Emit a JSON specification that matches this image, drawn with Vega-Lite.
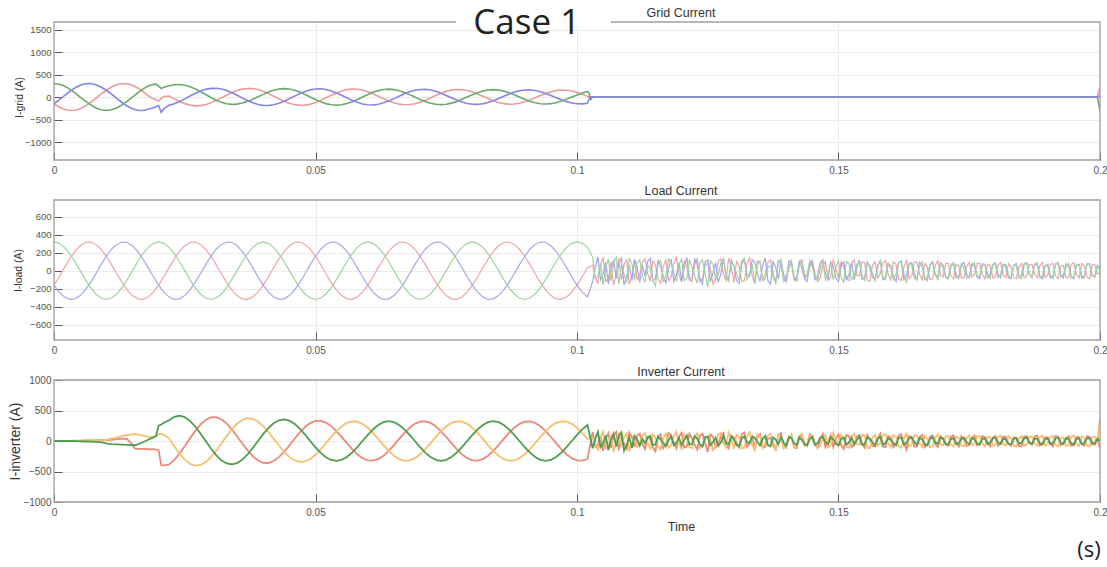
{
"$schema": "https://vega.github.io/schema/vega-lite/v6.json",
"background": "white",
"padding": {"left": 7, "top": 5, "right": 2, "bottom": 5},
"spacing": 40,
"bounds": "flush",
"resolve": {"scale": {"color": "independent", "x": "independent", "y": "independent"}, "axis": {"x": "independent", "y": "independent"}},
"config": {
  "view": {"stroke": null},
  "axis": {"labelFont": "Liberation Sans", "labelColor": "#555", "titleFont": "Liberation Sans", "titleFontWeight": "normal", "titleColor": "#333", "gridColor": "#ebebeb", "domain": false, "tickColor": "#555", "tickSize": -8, "labelFlush": false, "labelOverlap": false},
  "title": {"font": "Liberation Sans", "fontSize": 12.5, "fontWeight": "normal", "color": "#333", "anchor": "middle"}
},
"datasets": {
"grid": [
{"t":0,"a":-150,"b":300,"c":-150},{"t":0.001,"a":-223,"b":285,"c":-62},{"t":0.002,"a":-274,"b":243,"c":32},{"t":0.003,"a":-299,"b":176,"c":122},{"t":0.004,"a":-293,"b":93,"c":201},{"t":0.005,"a":-260,"b":0,"c":260},{"t":0.006,"a":-201,"b":-93,"c":293},{"t":0.007,"a":-122,"b":-176,"c":299},{"t":0.008,"a":-32,"b":-243,"c":274},{"t":0.009,"a":62,"b":-285,"c":223},
{"t":0.01,"a":150,"b":-300,"c":150},{"t":0.011,"a":223,"b":-285,"c":62},{"t":0.012,"a":274,"b":-243,"c":-32},{"t":0.013,"a":299,"b":-176,"c":-122},{"t":0.014,"a":293,"b":-93,"c":-201},{"t":0.015,"a":260,"b":0,"c":-260},{"t":0.016,"a":201,"b":93,"c":-293},{"t":0.017,"a":122,"b":176,"c":-299},{"t":0.018,"a":32,"b":243,"c":-274},{"t":0.019,"a":-40,"b":280,"c":-240},
{"t":0.0195,"a":-60,"b":285,"c":-215},{"t":0.02,"a":-90,"b":240,"c":-190},{"t":0.0205,"a":-30,"b":190,"c":-340},{"t":0.021,"a":10,"b":215,"c":-260},{"t":0.022,"a":21,"b":252,"c":-183},{"t":0.023,"a":-41,"b":274,"c":-148},{"t":0.024,"a":-99,"b":278,"c":-99},{"t":0.025,"a":-147,"b":263,"c":-41},{"t":0.026,"a":-180,"b":229,"c":21},{"t":0.027,"a":-196,"b":181,"c":80},
{"t":0.028,"a":-192,"b":121,"c":131},{"t":0.029,"a":-170,"b":55,"c":170},{"t":0.03,"a":-130,"b":-10,"c":191},{"t":0.031,"a":-79,"b":-70,"c":194},{"t":0.032,"a":-20,"b":-117,"c":177},{"t":0.033,"a":40,"b":-149,"c":143},{"t":0.034,"a":97,"b":-163,"c":97},{"t":0.035,"a":143,"b":-158,"c":40},{"t":0.036,"a":175,"b":-135,"c":-20},{"t":0.037,"a":190,"b":-97,"c":-78},
{"t":0.038,"a":186,"b":-49,"c":-127},{"t":0.039,"a":165,"b":5,"c":-165},{"t":0.04,"a":126,"b":58,"c":-185},{"t":0.041,"a":77,"b":111,"c":-188},{"t":0.042,"a":20,"b":152,"c":-172},{"t":0.043,"a":-39,"b":178,"c":-139},{"t":0.044,"a":-94,"b":187,"c":-94},{"t":0.045,"a":-138,"b":177,"c":-39},{"t":0.046,"a":-170,"b":150,"c":20},{"t":0.047,"a":-184,"b":109,"c":75},
{"t":0.048,"a":-180,"b":57,"c":123},{"t":0.049,"a":-159,"b":0,"c":159},{"t":0.05,"a":-122,"b":-57,"c":179},{"t":0.051,"a":-74,"b":-108,"c":182},{"t":0.052,"a":-19,"b":-147,"c":166},{"t":0.053,"a":38,"b":-172,"c":134},{"t":0.054,"a":90,"b":-181,"c":90},{"t":0.055,"a":134,"b":-171,"c":37},{"t":0.056,"a":165,"b":-146,"c":-19},{"t":0.057,"a":178,"b":-105,"c":-73},
{"t":0.058,"a":174,"b":-55,"c":-119},{"t":0.059,"a":154,"b":0,"c":-154},{"t":0.06,"a":118,"b":55,"c":-173},{"t":0.061,"a":72,"b":104,"c":-176},{"t":0.062,"a":18,"b":142,"c":-161},{"t":0.063,"a":-36,"b":166,"c":-130},{"t":0.064,"a":-88,"b":175,"c":-88},{"t":0.065,"a":-129,"b":165,"c":-36},{"t":0.066,"a":-159,"b":141,"c":18},{"t":0.067,"a":-172,"b":102,"c":70},
{"t":0.068,"a":-168,"b":53,"c":115},{"t":0.069,"a":-149,"b":0,"c":149},{"t":0.07,"a":-114,"b":-53,"c":167},{"t":0.071,"a":-70,"b":-101,"c":170},{"t":0.072,"a":-18,"b":-138,"c":155},{"t":0.073,"a":35,"b":-161,"c":126},{"t":0.074,"a":85,"b":-169,"c":85},{"t":0.075,"a":125,"b":-160,"c":35},{"t":0.076,"a":154,"b":-136,"c":-18},{"t":0.077,"a":166,"b":-98,"c":-68},
{"t":0.078,"a":162,"b":-51,"c":-111},{"t":0.079,"a":144,"b":0,"c":-144},{"t":0.08,"a":110,"b":51,"c":-161},{"t":0.081,"a":67,"b":97,"c":-164},{"t":0.082,"a":17,"b":133,"c":-150},{"t":0.083,"a":-34,"b":155,"c":-121},{"t":0.084,"a":-82,"b":163,"c":-82},{"t":0.085,"a":-120,"b":154,"c":-34},{"t":0.086,"a":-148,"b":131,"c":17},{"t":0.087,"a":-160,"b":95,"c":66},
{"t":0.088,"a":-156,"b":49,"c":107},{"t":0.089,"a":-139,"b":0,"c":139},{"t":0.09,"a":-106,"b":-49,"c":156},{"t":0.091,"a":-65,"b":-93,"c":158},{"t":0.092,"a":-17,"b":-128,"c":144},{"t":0.093,"a":33,"b":-149,"c":117},{"t":0.094,"a":79,"b":-157,"c":79},{"t":0.095,"a":116,"b":-148,"c":32},{"t":0.096,"a":143,"b":-126,"c":-16},{"t":0.097,"a":154,"b":-91,"c":-63},
{"t":0.098,"a":151,"b":-48,"c":-103},{"t":0.099,"a":133,"b":0,"c":-133},{"t":0.1,"a":102,"b":47,"c":-150},{"t":0.101,"a":62,"b":90,"c":-152},{"t":0.102,"a":16,"b":123,"c":-139},{"t":0.1023,"a":0,"b":90,"c":-40},{"t":0.1026,"a":0,"b":-60,"c":0},{"t":0.103,"a":0,"b":0,"c":0},{"t":0.1995,"a":0,"b":0,"c":0},{"t":0.2,"a":220,"b":-300,"c":30}
],
"load": [
{"t":0,"a":-160,"b":-160,"c":320},{"t":0.001,"a":-67,"b":-238,"c":304},{"t":0.002,"a":34,"b":-292,"c":259},{"t":0.003,"a":130,"b":-318,"c":188},{"t":0.004,"a":214,"b":-313,"c":99},{"t":0.005,"a":277,"b":-277,"c":0},{"t":0.006,"a":313,"b":-214,"c":-99},{"t":0.007,"a":318,"b":-130,"c":-188},{"t":0.008,"a":292,"b":-34,"c":-259},{"t":0.009,"a":238,"b":67,"c":-304},
{"t":0.01,"a":160,"b":160,"c":-320},{"t":0.011,"a":67,"b":238,"c":-304},{"t":0.012,"a":-34,"b":292,"c":-259},{"t":0.013,"a":-130,"b":318,"c":-188},{"t":0.014,"a":-214,"b":313,"c":-99},{"t":0.015,"a":-277,"b":277,"c":0},{"t":0.016,"a":-313,"b":214,"c":99},{"t":0.017,"a":-318,"b":130,"c":188},{"t":0.018,"a":-292,"b":34,"c":259},{"t":0.019,"a":-238,"b":-67,"c":304},
{"t":0.02,"a":-160,"b":-160,"c":320},{"t":0.021,"a":-67,"b":-238,"c":304},{"t":0.022,"a":34,"b":-292,"c":259},{"t":0.023,"a":130,"b":-318,"c":188},{"t":0.024,"a":214,"b":-313,"c":99},{"t":0.025,"a":277,"b":-277,"c":0},{"t":0.026,"a":313,"b":-214,"c":-99},{"t":0.027,"a":318,"b":-130,"c":-188},{"t":0.028,"a":292,"b":-34,"c":-259},{"t":0.029,"a":238,"b":67,"c":-304},
{"t":0.03,"a":160,"b":160,"c":-320},{"t":0.031,"a":67,"b":238,"c":-304},{"t":0.032,"a":-34,"b":292,"c":-259},{"t":0.033,"a":-130,"b":318,"c":-188},{"t":0.034,"a":-214,"b":313,"c":-99},{"t":0.035,"a":-277,"b":277,"c":0},{"t":0.036,"a":-313,"b":214,"c":99},{"t":0.037,"a":-318,"b":130,"c":188},{"t":0.038,"a":-292,"b":34,"c":259},{"t":0.039,"a":-238,"b":-67,"c":304},
{"t":0.04,"a":-160,"b":-160,"c":320},{"t":0.041,"a":-67,"b":-238,"c":304},{"t":0.042,"a":34,"b":-292,"c":259},{"t":0.043,"a":130,"b":-318,"c":188},{"t":0.044,"a":214,"b":-313,"c":99},{"t":0.045,"a":277,"b":-277,"c":0},{"t":0.046,"a":313,"b":-214,"c":-99},{"t":0.047,"a":318,"b":-130,"c":-188},{"t":0.048,"a":292,"b":-34,"c":-259},{"t":0.049,"a":238,"b":67,"c":-304},
{"t":0.05,"a":160,"b":160,"c":-320},{"t":0.051,"a":67,"b":238,"c":-304},{"t":0.052,"a":-34,"b":292,"c":-259},{"t":0.053,"a":-130,"b":318,"c":-188},{"t":0.054,"a":-214,"b":313,"c":-99},{"t":0.055,"a":-277,"b":277,"c":0},{"t":0.056,"a":-313,"b":214,"c":99},{"t":0.057,"a":-318,"b":130,"c":188},{"t":0.058,"a":-292,"b":34,"c":259},{"t":0.059,"a":-238,"b":-67,"c":304},
{"t":0.06,"a":-160,"b":-160,"c":320},{"t":0.061,"a":-67,"b":-238,"c":304},{"t":0.062,"a":34,"b":-292,"c":259},{"t":0.063,"a":130,"b":-318,"c":188},{"t":0.064,"a":214,"b":-313,"c":99},{"t":0.065,"a":277,"b":-277,"c":0},{"t":0.066,"a":313,"b":-214,"c":-99},{"t":0.067,"a":318,"b":-130,"c":-188},{"t":0.068,"a":292,"b":-34,"c":-259},{"t":0.069,"a":238,"b":67,"c":-304},
{"t":0.07,"a":160,"b":160,"c":-320},{"t":0.071,"a":67,"b":238,"c":-304},{"t":0.072,"a":-34,"b":292,"c":-259},{"t":0.073,"a":-130,"b":318,"c":-188},{"t":0.074,"a":-214,"b":313,"c":-99},{"t":0.075,"a":-277,"b":277,"c":0},{"t":0.076,"a":-313,"b":214,"c":99},{"t":0.077,"a":-318,"b":130,"c":188},{"t":0.078,"a":-292,"b":34,"c":259},{"t":0.079,"a":-238,"b":-67,"c":304},
{"t":0.08,"a":-160,"b":-160,"c":320},{"t":0.081,"a":-67,"b":-238,"c":304},{"t":0.082,"a":34,"b":-292,"c":259},{"t":0.083,"a":130,"b":-318,"c":188},{"t":0.084,"a":214,"b":-313,"c":99},{"t":0.085,"a":277,"b":-277,"c":0},{"t":0.086,"a":313,"b":-214,"c":-99},{"t":0.087,"a":318,"b":-130,"c":-188},{"t":0.088,"a":292,"b":-34,"c":-259},{"t":0.089,"a":238,"b":67,"c":-304},
{"t":0.09,"a":160,"b":160,"c":-320},{"t":0.091,"a":67,"b":238,"c":-304},{"t":0.092,"a":-34,"b":292,"c":-259},{"t":0.093,"a":-130,"b":318,"c":-188},{"t":0.094,"a":-214,"b":313,"c":-99},{"t":0.095,"a":-277,"b":277,"c":0},{"t":0.096,"a":-313,"b":214,"c":99},{"t":0.097,"a":-318,"b":130,"c":188},{"t":0.098,"a":-292,"b":34,"c":259},{"t":0.099,"a":-238,"b":-67,"c":304},
{"t":0.1,"a":-160,"b":-160,"c":320},{"t":0.101,"a":-67,"b":-238,"c":304},{"t":0.102,"a":34,"b":-292,"c":259},
{"t":0.103,"a":60,"b":-120,"c":150},{"t":0.1035,"a":-80,"b":40,"c":-90},{"t":0.104,"a":-140,"b":150,"c":-60},{"t":0.1045,"a":60,"b":-100,"c":80},{"t":0.105,"a":150,"b":-40,"c":-160},{"t":0.1055,"a":-120,"b":90,"c":40},{"t":0.106,"a":-90,"b":-150,"c":130},{"t":0.1065,"a":100,"b":20,"c":-110},{"t":0.107,"a":-160,"b":120,"c":90},{"t":0.1075,"a":-40,"b":-90,"c":150},
{"t":0.108,"a":140,"b":80,"c":-150},{"t":0.1085,"a":-100,"b":140,"c":60},{"t":0.109,"a":70,"b":-160,"c":-40},{"t":0.1095,"a":120,"b":-60,"c":-130},{"t":0.11,"a":-150,"b":60,"c":140},{"t":0.1105,"a":-60,"b":-110,"c":70},{"t":0.111,"a":110,"b":130,"c":-100},{"t":0.1115,"a":-100,"b":40,"c":90},{"t":0.112,"a":-40,"b":-130,"c":120},{"t":0.1125,"a":90,"b":60,"c":-50},
{"t":0.113,"a":130,"b":-60,"c":-130},{"t":0.1135,"a":-30,"b":100,"c":60},{"t":0.114,"a":-120,"b":140,"c":30},{"t":0.1145,"a":110,"b":-110,"c":-110},{"t":0.115,"a":60,"b":-90,"c":-170},{"t":0.1155,"a":-90,"b":120,"c":80},{"t":0.116,"a":-140,"b":40,"c":110},{"t":0.1165,"a":50,"b":-60,"c":-120},{"t":0.117,"a":120,"b":-140,"c":-60},{"t":0.1175,"a":-110,"b":20,"c":130},
{"t":0.118,"a":-70,"b":130,"c":90},{"t":0.1185,"a":80,"b":-120,"c":-20},{"t":0.119,"a":150,"b":-50,"c":-120},{"t":0.1195,"a":-40,"b":90,"c":70},{"t":0.12,"a":-130,"b":-110,"c":130},{"t":0.1205,"a":110,"b":30,"c":-110},{"t":0.121,"a":40,"b":150,"c":-90},{"t":0.1215,"a":-100,"b":-100,"c":120},{"t":0.122,"a":-120,"b":-80,"c":40},{"t":0.1225,"a":70,"b":130,"c":-60},
{"t":0.123,"a":130,"b":60,"c":-140},{"t":0.1235,"a":-120,"b":-90,"c":90},{"t":0.124,"a":-90,"b":-150,"c":120},{"t":0.1245,"a":60,"b":100,"c":-40},{"t":0.125,"a":80,"b":120,"c":-180},{"t":0.1255,"a":20,"b":-120,"c":110},{"t":0.126,"a":-150,"b":-30,"c":70},{"t":0.1265,"a":-90,"b":90,"c":-100},{"t":0.127,"a":110,"b":-130,"c":-50},{"t":0.1275,"a":130,"b":-40,"c":80},
{"t":0.128,"a":-40,"b":140,"c":130},{"t":0.1285,"a":-110,"b":-60,"c":-60},{"t":0.129,"a":140,"b":-90,"c":-120},{"t":0.1295,"a":40,"b":120,"c":90},{"t":0.13,"a":-130,"b":50,"c":60},{"t":0.1305,"a":100,"b":-110,"c":-30},{"t":0.131,"a":60,"b":-140,"c":-110},{"t":0.1315,"a":-120,"b":70,"c":110},{"t":0.132,"a":-110,"b":130,"c":140},{"t":0.1325,"a":80,"b":-40,"c":-100},
{"t":0.133,"a":140,"b":-60,"c":-40},{"t":0.1335,"a":-60,"b":120,"c":70},{"t":0.134,"a":-150,"b":90,"c":-130},{"t":0.1345,"a":110,"b":-30,"c":60},{"t":0.135,"a":90,"b":-120,"c":110},{"t":0.1355,"a":-110,"b":60,"c":-110},{"t":0.136,"a":-30,"b":140,"c":-90},{"t":0.1365,"a":90,"b":-110,"c":40},{"t":0.137,"a":120,"b":-150,"c":50},{"t":0.1375,"a":-20,"b":100,"c":-70},
{"t":0.138,"a":-130,"b":40,"c":-140},{"t":0.1385,"a":110,"b":-90,"c":100},{"t":0.139,"a":70,"b":110,"c":130},{"t":0.1395,"a":-100,"b":-40,"c":-110},{"t":0.14,"a":-120,"b":-130,"c":-60},{"t":0.1405,"a":40,"b":110,"c":30},{"t":0.141,"a":110,"b":80,"c":90},{"t":0.1415,"a":-100,"b":-60,"c":-100},{"t":0.142,"a":-90,"b":-110,"c":-120},{"t":0.1425,"a":90,"b":100,"c":60},
{"t":0.143,"a":120,"b":30,"c":100},{"t":0.1435,"a":-80,"b":-90,"c":-40},{"t":0.144,"a":-40,"b":-120,"c":-80},{"t":0.1445,"a":100,"b":50,"c":110},{"t":0.145,"a":100,"b":110,"c":40},{"t":0.1455,"a":-30,"b":-100,"c":-60},{"t":0.146,"a":-120,"b":-60,"c":-110},{"t":0.1465,"a":-80,"b":90,"c":20},{"t":0.147,"a":60,"b":120,"c":120},{"t":0.1475,"a":100,"b":-40,"c":-100},
{"t":0.148,"a":-110,"b":-90,"c":-30},{"t":0.1485,"a":-70,"b":100,"c":90},{"t":0.149,"a":130,"b":50,"c":-100},{"t":0.1495,"a":20,"b":-80,"c":40},{"t":0.15,"a":-80,"b":-120,"c":110},{"t":0.1505,"a":100,"b":50,"c":-70},{"t":0.151,"a":40,"b":100,"c":-130},{"t":0.1515,"a":-90,"b":-100,"c":100},{"t":0.152,"a":-110,"b":-40,"c":80},{"t":0.1525,"a":80,"b":90,"c":-100},
{"t":0.153,"a":120,"b":-100,"c":-60},{"t":0.1535,"a":-50,"b":30,"c":70},{"t":0.154,"a":-60,"b":120,"c":100},{"t":0.1545,"a":100,"b":-100,"c":-50},{"t":0.155,"a":90,"b":-80,"c":-110},{"t":0.1555,"a":-110,"b":90,"c":100},{"t":0.156,"a":-120,"b":60,"c":30},{"t":0.1565,"a":60,"b":-40,"c":-80},{"t":0.157,"a":100,"b":-110,"c":-90},{"t":0.1575,"a":-80,"b":60,"c":40},
{"t":0.158,"a":-30,"b":110,"c":120},{"t":0.1585,"a":90,"b":-100,"c":-90},{"t":0.159,"a":110,"b":-60,"c":-100},{"t":0.1595,"a":-40,"b":80,"c":80},{"t":0.16,"a":-100,"b":30,"c":60},{"t":0.1605,"a":100,"b":-60,"c":-100},{"t":0.161,"a":70,"b":-120,"c":-40},{"t":0.1615,"a":-90,"b":90,"c":90},{"t":0.162,"a":-110,"b":100,"c":110},{"t":0.1625,"a":40,"b":-100,"c":-30},
{"t":0.163,"a":120,"b":-50,"c":-140},{"t":0.1635,"a":-90,"b":80,"c":80},{"t":0.164,"a":-60,"b":90,"c":70},{"t":0.1645,"a":100,"b":-30,"c":-90},{"t":0.165,"a":90,"b":-100,"c":-90},{"t":0.1655,"a":-40,"b":90,"c":60},{"t":0.166,"a":-100,"b":40,"c":100},{"t":0.1665,"a":80,"b":-80,"c":-100},{"t":0.167,"a":40,"b":-110,"c":-60},{"t":0.1675,"a":-100,"b":60,"c":70},
{"t":0.168,"a":-90,"b":100,"c":90},{"t":0.1685,"a":60,"b":-40,"c":-50},{"t":0.169,"a":110,"b":-70,"c":-100},{"t":0.1695,"a":-50,"b":90,"c":80},{"t":0.17,"a":-70,"b":60,"c":40},{"t":0.1705,"a":80,"b":-80,"c":-60},{"t":0.171,"a":80,"b":-90,"c":-80},{"t":0.1715,"a":-60,"b":50,"c":70},{"t":0.172,"a":-90,"b":80,"c":90},{"t":0.1725,"a":70,"b":-80,"c":-40},
{"t":0.173,"a":50,"b":-60,"c":-90},{"t":0.1735,"a":-80,"b":60,"c":80},{"t":0.174,"a":-80,"b":90,"c":30},{"t":0.1745,"a":50,"b":-40,"c":-80},{"t":0.175,"a":90,"b":-80,"c":-70},{"t":0.1755,"a":-70,"b":80,"c":50},{"t":0.176,"a":-40,"b":50,"c":90},{"t":0.1765,"a":80,"b":-70,"c":-70},{"t":0.177,"a":80,"b":-90,"c":-60},{"t":0.1775,"a":-40,"b":60,"c":80},
{"t":0.178,"a":-90,"b":70,"c":60},{"t":0.1785,"a":70,"b":-80,"c":-30},{"t":0.179,"a":60,"b":-40,"c":-90},{"t":0.1795,"a":-80,"b":70,"c":60},{"t":0.18,"a":-70,"b":90,"c":80},{"t":0.1805,"a":60,"b":-40,"c":-80},{"t":0.181,"a":90,"b":-80,"c":-40},{"t":0.1815,"a":-50,"b":70,"c":70},{"t":0.182,"a":-80,"b":40,"c":70},{"t":0.1825,"a":80,"b":-80,"c":-50},
{"t":0.183,"a":40,"b":-90,"c":-80},{"t":0.1835,"a":-70,"b":60,"c":60},{"t":0.184,"a":-90,"b":80,"c":50},{"t":0.1845,"a":40,"b":-70,"c":-80},{"t":0.185,"a":80,"b":-50,"c":-90},{"t":0.1855,"a":-80,"b":80,"c":70},{"t":0.186,"a":-60,"b":90,"c":80},{"t":0.1865,"a":70,"b":-40,"c":-40},{"t":0.187,"a":70,"b":-80,"c":-60},{"t":0.1875,"a":-40,"b":70,"c":70},
{"t":0.188,"a":-80,"b":60,"c":90},{"t":0.1885,"a":60,"b":-60,"c":-80},{"t":0.189,"a":90,"b":-90,"c":-50},{"t":0.1895,"a":-80,"b":50,"c":60},{"t":0.19,"a":-50,"b":70,"c":60},{"t":0.1905,"a":70,"b":-80,"c":-50},{"t":0.191,"a":80,"b":-60,"c":-90},{"t":0.1915,"a":-60,"b":70,"c":80},{"t":0.192,"a":-90,"b":90,"c":70},{"t":0.1925,"a":50,"b":-50,"c":-70},
{"t":0.193,"a":60,"b":-80,"c":-40},{"t":0.1935,"a":-80,"b":80,"c":40},{"t":0.194,"a":-70,"b":50,"c":80},{"t":0.1945,"a":70,"b":-60,"c":-80},{"t":0.195,"a":90,"b":-90,"c":-70},{"t":0.1955,"a":-50,"b":60,"c":70},{"t":0.196,"a":-80,"b":70,"c":60},{"t":0.1965,"a":80,"b":-80,"c":-50},{"t":0.197,"a":50,"b":-60,"c":-80},{"t":0.1975,"a":-70,"b":70,"c":80},
{"t":0.198,"a":-90,"b":80,"c":70},{"t":0.1985,"a":60,"b":-50,"c":-60},{"t":0.199,"a":70,"b":-70,"c":-60},{"t":0.1995,"a":-40,"b":60,"c":50},{"t":0.2,"a":-20,"b":30,"c":-10}
],
"inv": [
{"t":0,"a":0,"b":0,"c":0},{"t":0.001,"a":0,"b":0,"c":0},{"t":0.002,"a":2,"b":-2,"c":0},{"t":0.003,"a":3,"b":-3,"c":0},{"t":0.004,"a":5,"b":-2,"c":-3},{"t":0.005,"a":6,"b":3,"c":-5},{"t":0.006,"a":8,"b":5,"c":-8},{"t":0.007,"a":10,"b":8,"c":-10},{"t":0.008,"a":12,"b":12,"c":-15},{"t":0.009,"a":15,"b":15,"c":-20},
{"t":0.01,"a":15,"b":20,"c":-40},{"t":0.011,"a":20,"b":40,"c":-50},{"t":0.012,"a":30,"b":60,"c":-55},{"t":0.013,"a":40,"b":80,"c":-60},{"t":0.014,"a":30,"b":100,"c":-65},{"t":0.015,"a":-60,"b":110,"c":-70},{"t":0.0155,"a":-125,"b":115,"c":-70},{"t":0.016,"a":-130,"b":110,"c":-55},{"t":0.017,"a":-130,"b":90,"c":-20},{"t":0.018,"a":-135,"b":70,"c":20},
{"t":0.019,"a":-135,"b":60,"c":60},{"t":0.0195,"a":-140,"b":80,"c":80},{"t":0.02,"a":-150,"b":110,"c":250},{"t":0.0205,"a":-400,"b":120,"c":270},{"t":0.021,"a":-398,"b":100,"c":300},{"t":0.022,"a":-384,"b":44,"c":340},{"t":0.023,"a":-310,"b":-87,"c":397},{"t":0.024,"a":-207,"b":-207,"c":414},{"t":0.025,"a":-85,"b":-305,"c":391},{"t":0.026,"a":43,"b":-373,"c":330},
{"t":0.027,"a":165,"b":-403,"c":238},{"t":0.028,"a":269,"b":-393,"c":124},{"t":0.029,"a":346,"b":-346,"c":0},{"t":0.03,"a":387,"b":-265,"c":-122},{"t":0.031,"a":391,"b":-160,"c":-231},{"t":0.032,"a":356,"b":-41,"c":-316},{"t":0.033,"a":288,"b":80,"c":-368},{"t":0.034,"a":192,"b":192,"c":-384},{"t":0.035,"a":79,"b":283,"c":-362},{"t":0.036,"a":-40,"b":345,"c":-306},
{"t":0.037,"a":-153,"b":373,"c":-221},{"t":0.038,"a":-249,"b":364,"c":-115},{"t":0.039,"a":-320,"b":320,"c":0},{"t":0.04,"a":-358,"b":245,"c":113},{"t":0.041,"a":-361,"b":148,"c":213},{"t":0.042,"a":-329,"b":38,"c":291},{"t":0.043,"a":-265,"b":-74,"c":340},{"t":0.044,"a":-177,"b":-177,"c":354},{"t":0.045,"a":-73,"b":-261,"c":334},{"t":0.046,"a":37,"b":-318,"c":282},
{"t":0.047,"a":140,"b":-343,"c":203},{"t":0.048,"a":229,"b":-334,"c":106},{"t":0.049,"a":294,"b":-294,"c":0},{"t":0.05,"a":329,"b":-225,"c":-104},{"t":0.051,"a":331,"b":-136,"c":-196},{"t":0.052,"a":302,"b":-35,"c":-267},{"t":0.053,"a":243,"b":68,"c":-311},{"t":0.054,"a":163,"b":163,"c":-325},{"t":0.055,"a":68,"b":241,"c":-309},{"t":0.056,"a":-34,"b":297,"c":-263},
{"t":0.057,"a":-132,"b":323,"c":-191},{"t":0.058,"a":-217,"b":318,"c":-100},{"t":0.059,"a":-281,"b":281,"c":0},{"t":0.06,"a":-318,"b":217,"c":100},{"t":0.061,"a":-323,"b":132,"c":191},{"t":0.062,"a":-297,"b":34,"c":263},{"t":0.063,"a":-241,"b":-68,"c":309},{"t":0.064,"a":-163,"b":-163,"c":325},{"t":0.065,"a":-68,"b":-241,"c":309},{"t":0.066,"a":34,"b":-297,"c":263},
{"t":0.067,"a":132,"b":-323,"c":191},{"t":0.068,"a":217,"b":-318,"c":100},{"t":0.069,"a":281,"b":-281,"c":0},{"t":0.07,"a":318,"b":-217,"c":-100},{"t":0.071,"a":323,"b":-132,"c":-191},{"t":0.072,"a":297,"b":-34,"c":-263},{"t":0.073,"a":241,"b":68,"c":-309},{"t":0.074,"a":163,"b":163,"c":-325},{"t":0.075,"a":68,"b":241,"c":-309},{"t":0.076,"a":-34,"b":297,"c":-263},
{"t":0.077,"a":-132,"b":323,"c":-191},{"t":0.078,"a":-217,"b":318,"c":-100},{"t":0.079,"a":-281,"b":281,"c":0},{"t":0.08,"a":-318,"b":217,"c":100},{"t":0.081,"a":-323,"b":132,"c":191},{"t":0.082,"a":-297,"b":34,"c":263},{"t":0.083,"a":-241,"b":-68,"c":309},{"t":0.084,"a":-163,"b":-163,"c":325},{"t":0.085,"a":-68,"b":-241,"c":309},{"t":0.086,"a":34,"b":-297,"c":263},
{"t":0.087,"a":132,"b":-323,"c":191},{"t":0.088,"a":217,"b":-318,"c":100},{"t":0.089,"a":281,"b":-281,"c":0},{"t":0.09,"a":318,"b":-217,"c":-100},{"t":0.091,"a":323,"b":-132,"c":-191},{"t":0.092,"a":297,"b":-34,"c":-263},{"t":0.093,"a":241,"b":68,"c":-309},{"t":0.094,"a":163,"b":163,"c":-325},{"t":0.095,"a":68,"b":241,"c":-309},{"t":0.096,"a":-34,"b":297,"c":-263},
{"t":0.097,"a":-132,"b":323,"c":-191},{"t":0.098,"a":-217,"b":318,"c":-100},{"t":0.099,"a":-281,"b":281,"c":0},{"t":0.1,"a":-318,"b":217,"c":100},{"t":0.101,"a":-323,"b":132,"c":191},{"t":0.102,"a":-297,"b":34,"c":263},
{"t":0.103,"a":150,"b":60,"c":-120},{"t":0.1035,"a":-90,"b":-80,"c":40},{"t":0.104,"a":-60,"b":-140,"c":150},{"t":0.1045,"a":80,"b":60,"c":-100},{"t":0.105,"a":-160,"b":150,"c":-40},{"t":0.1055,"a":40,"b":-120,"c":90},{"t":0.106,"a":130,"b":-90,"c":-150},{"t":0.1065,"a":-110,"b":100,"c":20},{"t":0.107,"a":90,"b":-160,"c":120},{"t":0.1075,"a":150,"b":-40,"c":-90},
{"t":0.108,"a":-150,"b":140,"c":80},{"t":0.1085,"a":60,"b":-100,"c":140},{"t":0.109,"a":-40,"b":70,"c":-160},{"t":0.1095,"a":-130,"b":120,"c":-60},{"t":0.11,"a":140,"b":-150,"c":60},{"t":0.1105,"a":70,"b":-60,"c":-110},{"t":0.111,"a":-100,"b":110,"c":78},{"t":0.1115,"a":90,"b":-100,"c":24},{"t":0.112,"a":120,"b":-40,"c":-78},{"t":0.1125,"a":-50,"b":90,"c":36},
{"t":0.113,"a":-130,"b":130,"c":-36},{"t":0.1135,"a":60,"b":-30,"c":60},{"t":0.114,"a":30,"b":-120,"c":84},{"t":0.1145,"a":-110,"b":110,"c":-66},{"t":0.115,"a":-170,"b":60,"c":-54},{"t":0.1155,"a":80,"b":-90,"c":72},{"t":0.116,"a":110,"b":-140,"c":24},{"t":0.1165,"a":-120,"b":50,"c":-36},{"t":0.117,"a":-60,"b":120,"c":-84},{"t":0.1175,"a":130,"b":-110,"c":12},
{"t":0.118,"a":90,"b":-70,"c":78},{"t":0.1185,"a":-20,"b":80,"c":-72},{"t":0.119,"a":-120,"b":150,"c":-30},{"t":0.1195,"a":70,"b":-40,"c":54},{"t":0.12,"a":130,"b":-130,"c":-66},{"t":0.1205,"a":-110,"b":110,"c":18},{"t":0.121,"a":-90,"b":40,"c":90},{"t":0.1215,"a":120,"b":-100,"c":-60},{"t":0.122,"a":40,"b":-120,"c":-48},{"t":0.1225,"a":-60,"b":70,"c":78},
{"t":0.123,"a":-140,"b":130,"c":36},{"t":0.1235,"a":90,"b":-120,"c":-54},{"t":0.124,"a":120,"b":-90,"c":-90},{"t":0.1245,"a":-40,"b":60,"c":60},{"t":0.125,"a":-180,"b":80,"c":72},{"t":0.1255,"a":110,"b":20,"c":-72},{"t":0.126,"a":70,"b":-150,"c":-18},{"t":0.1265,"a":-100,"b":-90,"c":54},{"t":0.127,"a":-50,"b":110,"c":-78},{"t":0.1275,"a":80,"b":130,"c":-24},
{"t":0.128,"a":130,"b":-40,"c":84},{"t":0.1285,"a":-60,"b":-110,"c":-36},{"t":0.129,"a":-120,"b":140,"c":-54},{"t":0.1295,"a":90,"b":40,"c":72},{"t":0.13,"a":60,"b":-130,"c":30},{"t":0.1305,"a":-30,"b":100,"c":-66},{"t":0.131,"a":-110,"b":60,"c":-84},{"t":0.1315,"a":110,"b":-120,"c":42},{"t":0.132,"a":140,"b":-110,"c":78},{"t":0.1325,"a":-100,"b":80,"c":-24},
{"t":0.133,"a":-40,"b":140,"c":-36},{"t":0.1335,"a":70,"b":-60,"c":72},{"t":0.134,"a":-130,"b":-150,"c":54},{"t":0.1345,"a":60,"b":110,"c":-18},{"t":0.135,"a":110,"b":90,"c":-72},{"t":0.1355,"a":-110,"b":-110,"c":36},{"t":0.136,"a":-90,"b":-30,"c":84},{"t":0.1365,"a":40,"b":90,"c":-66},{"t":0.137,"a":50,"b":120,"c":-90},{"t":0.1375,"a":-70,"b":-20,"c":60},
{"t":0.138,"a":-140,"b":-130,"c":24},{"t":0.1385,"a":100,"b":110,"c":-54},{"t":0.139,"a":130,"b":70,"c":66},{"t":0.1395,"a":-110,"b":-100,"c":-24},{"t":0.14,"a":-60,"b":-120,"c":-78},{"t":0.1405,"a":30,"b":40,"c":66},{"t":0.141,"a":90,"b":110,"c":48},{"t":0.1415,"a":-100,"b":-100,"c":-36},{"t":0.142,"a":-120,"b":-90,"c":-66},{"t":0.1425,"a":60,"b":90,"c":60},
{"t":0.143,"a":100,"b":120,"c":18},{"t":0.1435,"a":-40,"b":-80,"c":-54},{"t":0.144,"a":-80,"b":-40,"c":-72},{"t":0.1445,"a":110,"b":100,"c":30},{"t":0.145,"a":40,"b":100,"c":66},{"t":0.1455,"a":-60,"b":-30,"c":-60},{"t":0.146,"a":-110,"b":-120,"c":-36},{"t":0.1465,"a":20,"b":-80,"c":54},{"t":0.147,"a":120,"b":60,"c":72},{"t":0.1475,"a":-100,"b":100,"c":-24},
{"t":0.148,"a":-30,"b":-110,"c":-54},{"t":0.1485,"a":90,"b":-70,"c":60},{"t":0.149,"a":-100,"b":130,"c":30},{"t":0.1495,"a":40,"b":20,"c":-48},{"t":0.15,"a":110,"b":-80,"c":-72},{"t":0.1505,"a":-70,"b":100,"c":30},{"t":0.151,"a":-130,"b":40,"c":60},{"t":0.1515,"a":100,"b":-90,"c":-60},{"t":0.152,"a":80,"b":-110,"c":-24},{"t":0.1525,"a":-100,"b":80,"c":54},
{"t":0.153,"a":-60,"b":120,"c":-60},{"t":0.1535,"a":70,"b":-50,"c":18},{"t":0.154,"a":100,"b":-60,"c":72},{"t":0.1545,"a":-50,"b":100,"c":-60},{"t":0.155,"a":-110,"b":90,"c":-48},{"t":0.1555,"a":100,"b":-110,"c":54},{"t":0.156,"a":30,"b":-120,"c":36},{"t":0.1565,"a":-80,"b":60,"c":-24},{"t":0.157,"a":-90,"b":100,"c":-66},{"t":0.1575,"a":40,"b":-80,"c":36},
{"t":0.158,"a":120,"b":-30,"c":66},{"t":0.1585,"a":-90,"b":90,"c":-60},{"t":0.159,"a":-100,"b":110,"c":-36},{"t":0.1595,"a":80,"b":-40,"c":48},{"t":0.16,"a":60,"b":-100,"c":18},{"t":0.1605,"a":-100,"b":100,"c":-36},{"t":0.161,"a":-40,"b":70,"c":-72},{"t":0.1615,"a":90,"b":-90,"c":54},{"t":0.162,"a":110,"b":-110,"c":60},{"t":0.1625,"a":-30,"b":40,"c":-60},
{"t":0.163,"a":-140,"b":120,"c":-30},{"t":0.1635,"a":80,"b":-90,"c":48},{"t":0.164,"a":70,"b":-60,"c":54},{"t":0.1645,"a":-90,"b":100,"c":-18},{"t":0.165,"a":-90,"b":90,"c":-60},{"t":0.1655,"a":60,"b":-40,"c":54},{"t":0.166,"a":100,"b":-100,"c":24},{"t":0.1665,"a":-100,"b":80,"c":-48},{"t":0.167,"a":-60,"b":40,"c":-66},{"t":0.1675,"a":70,"b":-100,"c":36},
{"t":0.168,"a":90,"b":-90,"c":60},{"t":0.1685,"a":-50,"b":60,"c":-24},{"t":0.169,"a":-100,"b":110,"c":-42},{"t":0.1695,"a":80,"b":-50,"c":54},{"t":0.17,"a":40,"b":-70,"c":36},{"t":0.1705,"a":-60,"b":80,"c":-48},{"t":0.171,"a":-80,"b":80,"c":-54},{"t":0.1715,"a":70,"b":-60,"c":30},{"t":0.172,"a":90,"b":-90,"c":48},{"t":0.1725,"a":-40,"b":70,"c":-48},
{"t":0.173,"a":-90,"b":50,"c":-36},{"t":0.1735,"a":80,"b":-80,"c":36},{"t":0.174,"a":30,"b":-80,"c":54},{"t":0.1745,"a":-80,"b":50,"c":-24},{"t":0.175,"a":-70,"b":90,"c":-48},{"t":0.1755,"a":50,"b":-70,"c":48},{"t":0.176,"a":90,"b":-40,"c":30},{"t":0.1765,"a":-70,"b":80,"c":-42},{"t":0.177,"a":-60,"b":80,"c":-54},{"t":0.1775,"a":80,"b":-40,"c":36},
{"t":0.178,"a":60,"b":-90,"c":42},{"t":0.1785,"a":-30,"b":70,"c":-48},{"t":0.179,"a":-90,"b":60,"c":-24},{"t":0.1795,"a":60,"b":-80,"c":42},{"t":0.18,"a":80,"b":-70,"c":54},{"t":0.1805,"a":-80,"b":60,"c":-24},{"t":0.181,"a":-40,"b":90,"c":-48},{"t":0.1815,"a":70,"b":-50,"c":42},{"t":0.182,"a":70,"b":-80,"c":24},{"t":0.1825,"a":-50,"b":80,"c":-48},
{"t":0.183,"a":-80,"b":40,"c":-54},{"t":0.1835,"a":60,"b":-70,"c":36},{"t":0.184,"a":50,"b":-90,"c":48},{"t":0.1845,"a":-80,"b":40,"c":-42},{"t":0.185,"a":-90,"b":80,"c":-30},{"t":0.1855,"a":70,"b":-80,"c":48},{"t":0.186,"a":80,"b":-60,"c":54},{"t":0.1865,"a":-40,"b":70,"c":-24},{"t":0.187,"a":-60,"b":70,"c":-48},{"t":0.1875,"a":70,"b":-40,"c":42},
{"t":0.188,"a":90,"b":-80,"c":36},{"t":0.1885,"a":-80,"b":60,"c":-36},{"t":0.189,"a":-50,"b":90,"c":-54},{"t":0.1895,"a":60,"b":-80,"c":30},{"t":0.19,"a":60,"b":-50,"c":42},{"t":0.1905,"a":-50,"b":70,"c":-48},{"t":0.191,"a":-90,"b":80,"c":-36},{"t":0.1915,"a":80,"b":-60,"c":42},{"t":0.192,"a":70,"b":-90,"c":54},{"t":0.1925,"a":-70,"b":50,"c":-30},
{"t":0.193,"a":-40,"b":60,"c":-48},{"t":0.1935,"a":40,"b":-80,"c":48},{"t":0.194,"a":80,"b":-70,"c":30},{"t":0.1945,"a":-80,"b":70,"c":-36},{"t":0.195,"a":-70,"b":90,"c":-54},{"t":0.1955,"a":70,"b":-50,"c":36},{"t":0.196,"a":60,"b":-80,"c":42},{"t":0.1965,"a":-50,"b":80,"c":-48},{"t":0.197,"a":-80,"b":50,"c":-36},{"t":0.1975,"a":80,"b":-70,"c":42},
{"t":0.198,"a":70,"b":-90,"c":48},{"t":0.1985,"a":-60,"b":60,"c":-30},{"t":0.199,"a":-60,"b":70,"c":-42},{"t":0.1995,"a":50,"b":-40,"c":36},{"t":0.2,"a":-120,"b":380,"c":0}
]
},
"vconcat": [
{
  "width": 1046, "height": 138,
  "title": {"text": "Grid Current", "dx": 104, "offset": -14},
  "layer": [
    {"data": {"name": "grid"}, "transform": [{"fold": ["a", "b", "c"], "as": ["phase", "I"]}],
     "mark": {"type": "line", "strokeWidth": 1.6, "clip": true},
     "encoding": {
       "x": {"field": "t", "type": "quantitative", "scale": {"domain": [0, 0.2], "nice": false, "zero": false},
             "axis": {"values": [0, 0.05, 0.1, 0.15, 0.2], "format": "~g", "title": null, "labelFontSize": 10, "labelPadding": 13.5, "labelOverlap": false}},
       "y": {"field": "I", "type": "quantitative", "scale": {"domain": [-1400, 1667], "nice": false, "zero": false},
             "axis": {"values": [-1000, -500, 0, 500, 1000, 1500], "format": "d", "labelOverlap": false, "labelFontSize": 9.5, "labelPadding": 11, "title": "I-grid (A)", "titleFontSize": 10.5, "titleX": -35, "titleY": 75, "titleAngle": -90, "titleBaseline": "middle", "titleAlign": "center"}},
       "color": {"field": "phase", "type": "nominal", "scale": {"domain": ["a", "b", "c"], "range": ["#f09a9a", "#6aaa6a", "#8484e6"]}, "legend": null}
     }},
    {"data": {"values": [{}]}, "mark": {"type": "rect", "filled": false, "stroke": "#a0a0a0", "strokeWidth": 1.3},
     "encoding": {
       "x": {"datum": 0, "type": "quantitative", "scale": {"domain": [0, 0.2], "nice": false, "zero": false},
             "axis": {"values": [0, 0.05, 0.1, 0.15, 0.2], "format": "~g", "title": null, "labelFontSize": 10, "labelPadding": 13.5, "labelOverlap": false}},
       "x2": {"datum": 0.2},
       "y": {"datum": -1400, "type": "quantitative", "scale": {"domain": [-1400, 1667], "nice": false, "zero": false},
             "axis": {"values": [-1000, -500, 0, 500, 1000, 1500], "format": "d", "labelOverlap": false, "labelFontSize": 9.5, "labelPadding": 11, "title": "I-grid (A)", "titleFontSize": 10.5, "titleX": -35, "titleY": 75, "titleAngle": -90, "titleBaseline": "middle", "titleAlign": "center"}},
       "y2": {"datum": 1667}}},
    {"data": {"values": [{}]}, "mark": {"type": "rect", "fill": "white", "stroke": null},
     "encoding": {
       "x": {"datum": 0.0769, "type": "quantitative", "scale": {"domain": [0, 0.2], "nice": false, "zero": false},
             "axis": {"values": [0, 0.05, 0.1, 0.15, 0.2], "format": "~g", "title": null, "labelFontSize": 10, "labelPadding": 13.5, "labelOverlap": false}},
       "x2": {"datum": 0.1065},
       "y": {"datum": 1578, "type": "quantitative", "scale": {"domain": [-1400, 1667], "nice": false, "zero": false},
             "axis": {"values": [-1000, -500, 0, 500, 1000, 1500], "format": "d", "labelOverlap": false, "labelFontSize": 9.5, "labelPadding": 11, "title": "I-grid (A)", "titleFontSize": 10.5, "titleX": -35, "titleY": 75, "titleAngle": -90, "titleBaseline": "middle", "titleAlign": "center"}},
       "y2": {"datum": 1756}}},
    {"data": {"values": [{}]}, "mark": {"type": "text", "text": "Case 1", "font": "Open Sans", "fontSize": 35, "color": "#222", "baseline": "middle", "align": "center"},
     "encoding": {
       "x": {"datum": 0.0904, "type": "quantitative", "scale": {"domain": [0, 0.2], "nice": false, "zero": false},
             "axis": {"values": [0, 0.05, 0.1, 0.15, 0.2], "format": "~g", "title": null, "labelFontSize": 10, "labelPadding": 13.5, "labelOverlap": false}},
       "y": {"datum": 1650, "type": "quantitative", "scale": {"domain": [-1400, 1667], "nice": false, "zero": false},
             "axis": {"values": [-1000, -500, 0, 500, 1000, 1500], "format": "d", "labelOverlap": false, "labelFontSize": 9.5, "labelPadding": 11, "title": "I-grid (A)", "titleFontSize": 10.5, "titleX": -35, "titleY": 75, "titleAngle": -90, "titleBaseline": "middle", "titleAlign": "center"}}}}
  ]
},
{
  "width": 1046, "height": 140,
  "title": {"text": "Load Current", "dx": 104, "offset": 2},
  "layer": [
    {"data": {"name": "load"}, "transform": [{"fold": ["a", "b", "c"], "as": ["phase", "I"]}],
     "mark": {"type": "line", "strokeWidth": 1.2, "clip": true},
     "encoding": {
       "x": {"field": "t", "type": "quantitative", "scale": {"domain": [0, 0.2], "nice": false, "zero": false},
             "axis": {"values": [0, 0.05, 0.1, 0.15, 0.2], "format": "~g", "title": null, "labelFontSize": 10, "labelPadding": 13.5, "labelOverlap": false}},
       "y": {"field": "I", "type": "quantitative", "scale": {"domain": [-770, 785], "nice": false, "zero": false},
             "axis": {"values": [-600, -400, -200, 0, 200, 400, 600], "format": "d", "labelOverlap": false, "labelFontSize": 9.5, "labelPadding": 11, "title": "I-load (A)", "titleFontSize": 10.5, "titleX": -36, "titleY": 70, "titleAngle": -90, "titleBaseline": "middle", "titleAlign": "center"}},
       "color": {"field": "phase", "type": "nominal", "scale": {"domain": ["a", "b", "c"], "range": ["#f2a4a4", "#a6a6ee", "#a0d2a0"]}, "legend": null}
     }},
    {"data": {"values": [{}]}, "mark": {"type": "rect", "filled": false, "stroke": "#a0a0a0", "strokeWidth": 1.3},
     "encoding": {
       "x": {"datum": 0, "type": "quantitative", "scale": {"domain": [0, 0.2], "nice": false, "zero": false},
             "axis": {"values": [0, 0.05, 0.1, 0.15, 0.2], "format": "~g", "title": null, "labelFontSize": 10, "labelPadding": 13.5, "labelOverlap": false}},
       "x2": {"datum": 0.2},
       "y": {"datum": -770, "type": "quantitative", "scale": {"domain": [-770, 785], "nice": false, "zero": false},
             "axis": {"values": [-600, -400, -200, 0, 200, 400, 600], "format": "d", "labelOverlap": false, "labelFontSize": 9.5, "labelPadding": 11, "title": "I-load (A)", "titleFontSize": 10.5, "titleX": -36, "titleY": 70, "titleAngle": -90, "titleBaseline": "middle", "titleAlign": "center"}},
       "y2": {"datum": 785}}}
  ]
},
{
  "width": 1046, "height": 122,
  "title": {"text": "Inverter Current", "dx": 104, "offset": -3},
  "layer": [
    {"data": {"name": "inv"}, "transform": [{"fold": ["a", "b", "c"], "as": ["phase", "I"]}],
     "mark": {"type": "line", "strokeWidth": 1.8, "clip": true},
     "encoding": {
       "x": {"field": "t", "type": "quantitative", "scale": {"domain": [0, 0.2], "nice": false, "zero": false},
             "axis": {"values": [0, 0.05, 0.1, 0.15, 0.2], "format": "~g", "labelOverlap": false, "labelFontSize": 10, "labelPadding": 13.5, "title": "Time", "titleFontSize": 12.5, "titleX": 627, "titleY": 24, "titleBaseline": "middle", "titleAlign": "center"}},
       "y": {"field": "I", "type": "quantitative", "scale": {"domain": [-1000, 1000], "nice": false, "zero": false},
             "axis": {"values": [-1000, -500, 0, 500, 1000], "format": "d", "labelOverlap": false, "labelFontSize": 10, "labelPadding": 11, "title": "I-inverter (A)", "titleFontSize": 14, "titleX": -39, "titleY": 61, "titleAngle": -90, "titleBaseline": "middle", "titleAlign": "center"}},
       "color": {"field": "phase", "type": "nominal", "scale": {"domain": ["a", "b", "c"], "range": ["#ec8a78", "#f5c070", "#4f9d4f"]}, "legend": null}
     }},
    {"data": {"values": [{}]}, "mark": {"type": "rect", "filled": false, "stroke": "#a0a0a0", "strokeWidth": 1.3},
     "encoding": {
       "x": {"datum": 0, "type": "quantitative", "scale": {"domain": [0, 0.2], "nice": false, "zero": false},
             "axis": {"values": [0, 0.05, 0.1, 0.15, 0.2], "format": "~g", "labelOverlap": false, "labelFontSize": 10, "labelPadding": 13.5, "title": "Time", "titleFontSize": 12.5, "titleX": 627, "titleY": 24, "titleBaseline": "middle", "titleAlign": "center"}},
       "x2": {"datum": 0.2},
       "y": {"datum": -1000, "type": "quantitative", "scale": {"domain": [-1000, 1000], "nice": false, "zero": false},
             "axis": {"values": [-1000, -500, 0, 500, 1000], "format": "d", "labelOverlap": false, "labelFontSize": 10, "labelPadding": 11, "title": "I-inverter (A)", "titleFontSize": 14, "titleX": -39, "titleY": 61, "titleAngle": -90, "titleBaseline": "middle", "titleAlign": "center"}},
       "y2": {"datum": 1000}}},
    {"data": {"values": [{}]}, "mark": {"type": "text", "text": "(s)", "font": "Open Sans", "fontSize": 22, "color": "#222", "baseline": "middle", "align": "center"},
     "encoding": {
       "x": {"datum": 0.1979, "type": "quantitative", "scale": {"domain": [0, 0.2], "nice": false, "zero": false},
             "axis": {"values": [0, 0.05, 0.1, 0.15, 0.2], "format": "~g", "labelOverlap": false, "labelFontSize": 10, "labelPadding": 13.5, "title": "Time", "titleFontSize": 12.5, "titleX": 627, "titleY": 24, "titleBaseline": "middle", "titleAlign": "center"}},
       "y": {"datum": -1786, "type": "quantitative", "scale": {"domain": [-1000, 1000], "nice": false, "zero": false},
             "axis": {"values": [-1000, -500, 0, 500, 1000], "format": "d", "labelOverlap": false, "labelFontSize": 10, "labelPadding": 11, "title": "I-inverter (A)", "titleFontSize": 14, "titleX": -39, "titleY": 61, "titleAngle": -90, "titleBaseline": "middle", "titleAlign": "center"}}}}
  ]
}
]
}
